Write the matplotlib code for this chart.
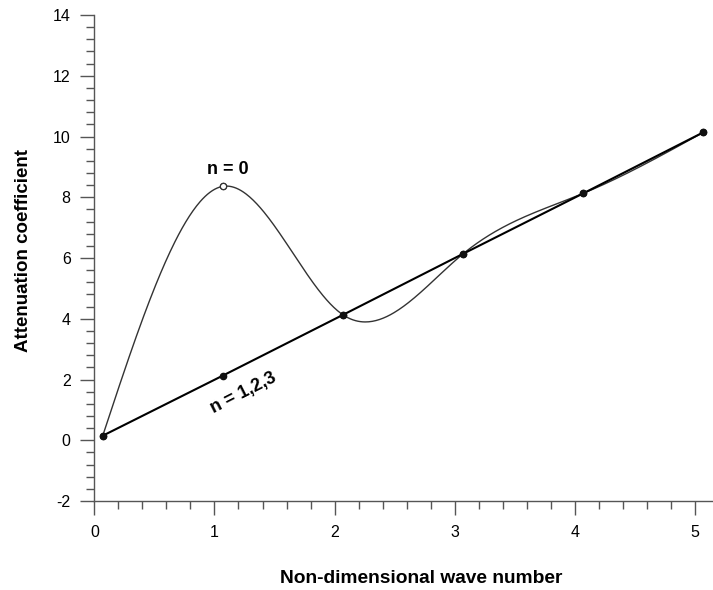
import numpy as np
import matplotlib
matplotlib.use('Agg')
import matplotlib.pyplot as plt
from matplotlib.ticker import MultipleLocator

plt.rcParams['font.family'] = ['Liberation Sans', 'DejaVu Sans']
plt.rcParams['axes.unicode_minus'] = False

# wave numbers and attenuation for each mode
k = [0.07, 1.07, 2.07, 3.07, 4.07, 5.07]
att_n0 = [0.15, 8.36, 4.13, 6.14, 8.13, 10.14]
att_n123 = [0.15, 2.13, 4.13, 6.14, 8.13, 10.14]


def natural_spline(x, y, num=500):
    # natural cubic spline y(x) through the nodes
    x = np.asarray(x, float)
    y = np.asarray(y, float)
    n = len(x)
    h = np.diff(x)
    A = np.zeros((n, n))
    b = np.zeros(n)
    A[0, 0] = A[-1, -1] = 1.0
    for i in range(1, n - 1):
        A[i, i - 1] = h[i - 1]
        A[i, i] = 2 * (h[i - 1] + h[i])
        A[i, i + 1] = h[i]
        b[i] = 6 * ((y[i + 1] - y[i]) / h[i] - (y[i] - y[i - 1]) / h[i - 1])
    M = np.linalg.solve(A, b)
    xs = np.linspace(x[0], x[-1], num)
    idx = np.clip(np.searchsorted(x, xs) - 1, 0, n - 2)
    x0, x1 = x[idx], x[idx + 1]
    hh = x1 - x0
    a, c = x1 - xs, xs - x0
    ys = (M[idx] * a**3 + M[idx + 1] * c**3) / (6 * hh) \
        + (y[idx] / hh - M[idx] * hh / 6) * a \
        + (y[idx + 1] / hh - M[idx + 1] * hh / 6) * c
    return xs, ys


fig = plt.figure(figsize=(7.13, 5.90), dpi=100)
ax = fig.add_axes([0.1323, 0.1508, 0.8677, 0.8237])

xs, ys = natural_spline(k, att_n0)
ax.plot(xs, ys, color='#333333', lw=1.0, zorder=2)
ax.plot(k, att_n0, 'o', ms=4.5, mfc='white', mec='#333333', mew=0.9, zorder=3)
ax.plot(k, att_n123, '-', color='black', lw=1.5, zorder=4)
ax.plot(k, att_n123, 'o', ms=4.5, color='#111111', zorder=5)
ax.plot(k[1], att_n0[1], 'o', ms=4.5, mfc='white', mec='#333333', mew=0.9, zorder=6)

ax.text(k[1] + 0.04, att_n0[1] + 0.55, 'n = 0', ha='center', va='center',
        fontsize=13, fontweight='bold')
ax.text(1.24, 1.57, 'n = 1,2,3', ha='center', va='center', rotation=27,
        fontsize=13, fontweight='bold')

ax.set_xlim(0, 5.15)
ax.set_ylim(-2, 14)
ax.xaxis.set_major_locator(MultipleLocator(1))
ax.xaxis.set_minor_locator(MultipleLocator(0.2))
ax.yaxis.set_major_locator(MultipleLocator(2))
ax.yaxis.set_minor_locator(MultipleLocator(0.4))

for side in ('top', 'right'):
    ax.spines[side].set_visible(False)
for side in ('left', 'bottom'):
    ax.spines[side].set_color('#555555')
    ax.spines[side].set_linewidth(1.0)

ax.tick_params(which='major', length=10, width=1.0, color='#555555',
               labelsize=11.5, pad=7)
ax.tick_params(which='minor', length=5.5, width=1.0, color='#555555')

ax.set_xlabel('Non-dimensional wave number', fontsize=13.8, fontweight='bold')
ax.set_ylabel('Attenuation coefficient', fontsize=13.5, fontweight='bold', labelpad=13)
ax.xaxis.set_label_coords(0.528, -0.142)
ax.yaxis.set_label_coords(-0.1, 0.516)

fig.savefig('out.png', dpi=100)
